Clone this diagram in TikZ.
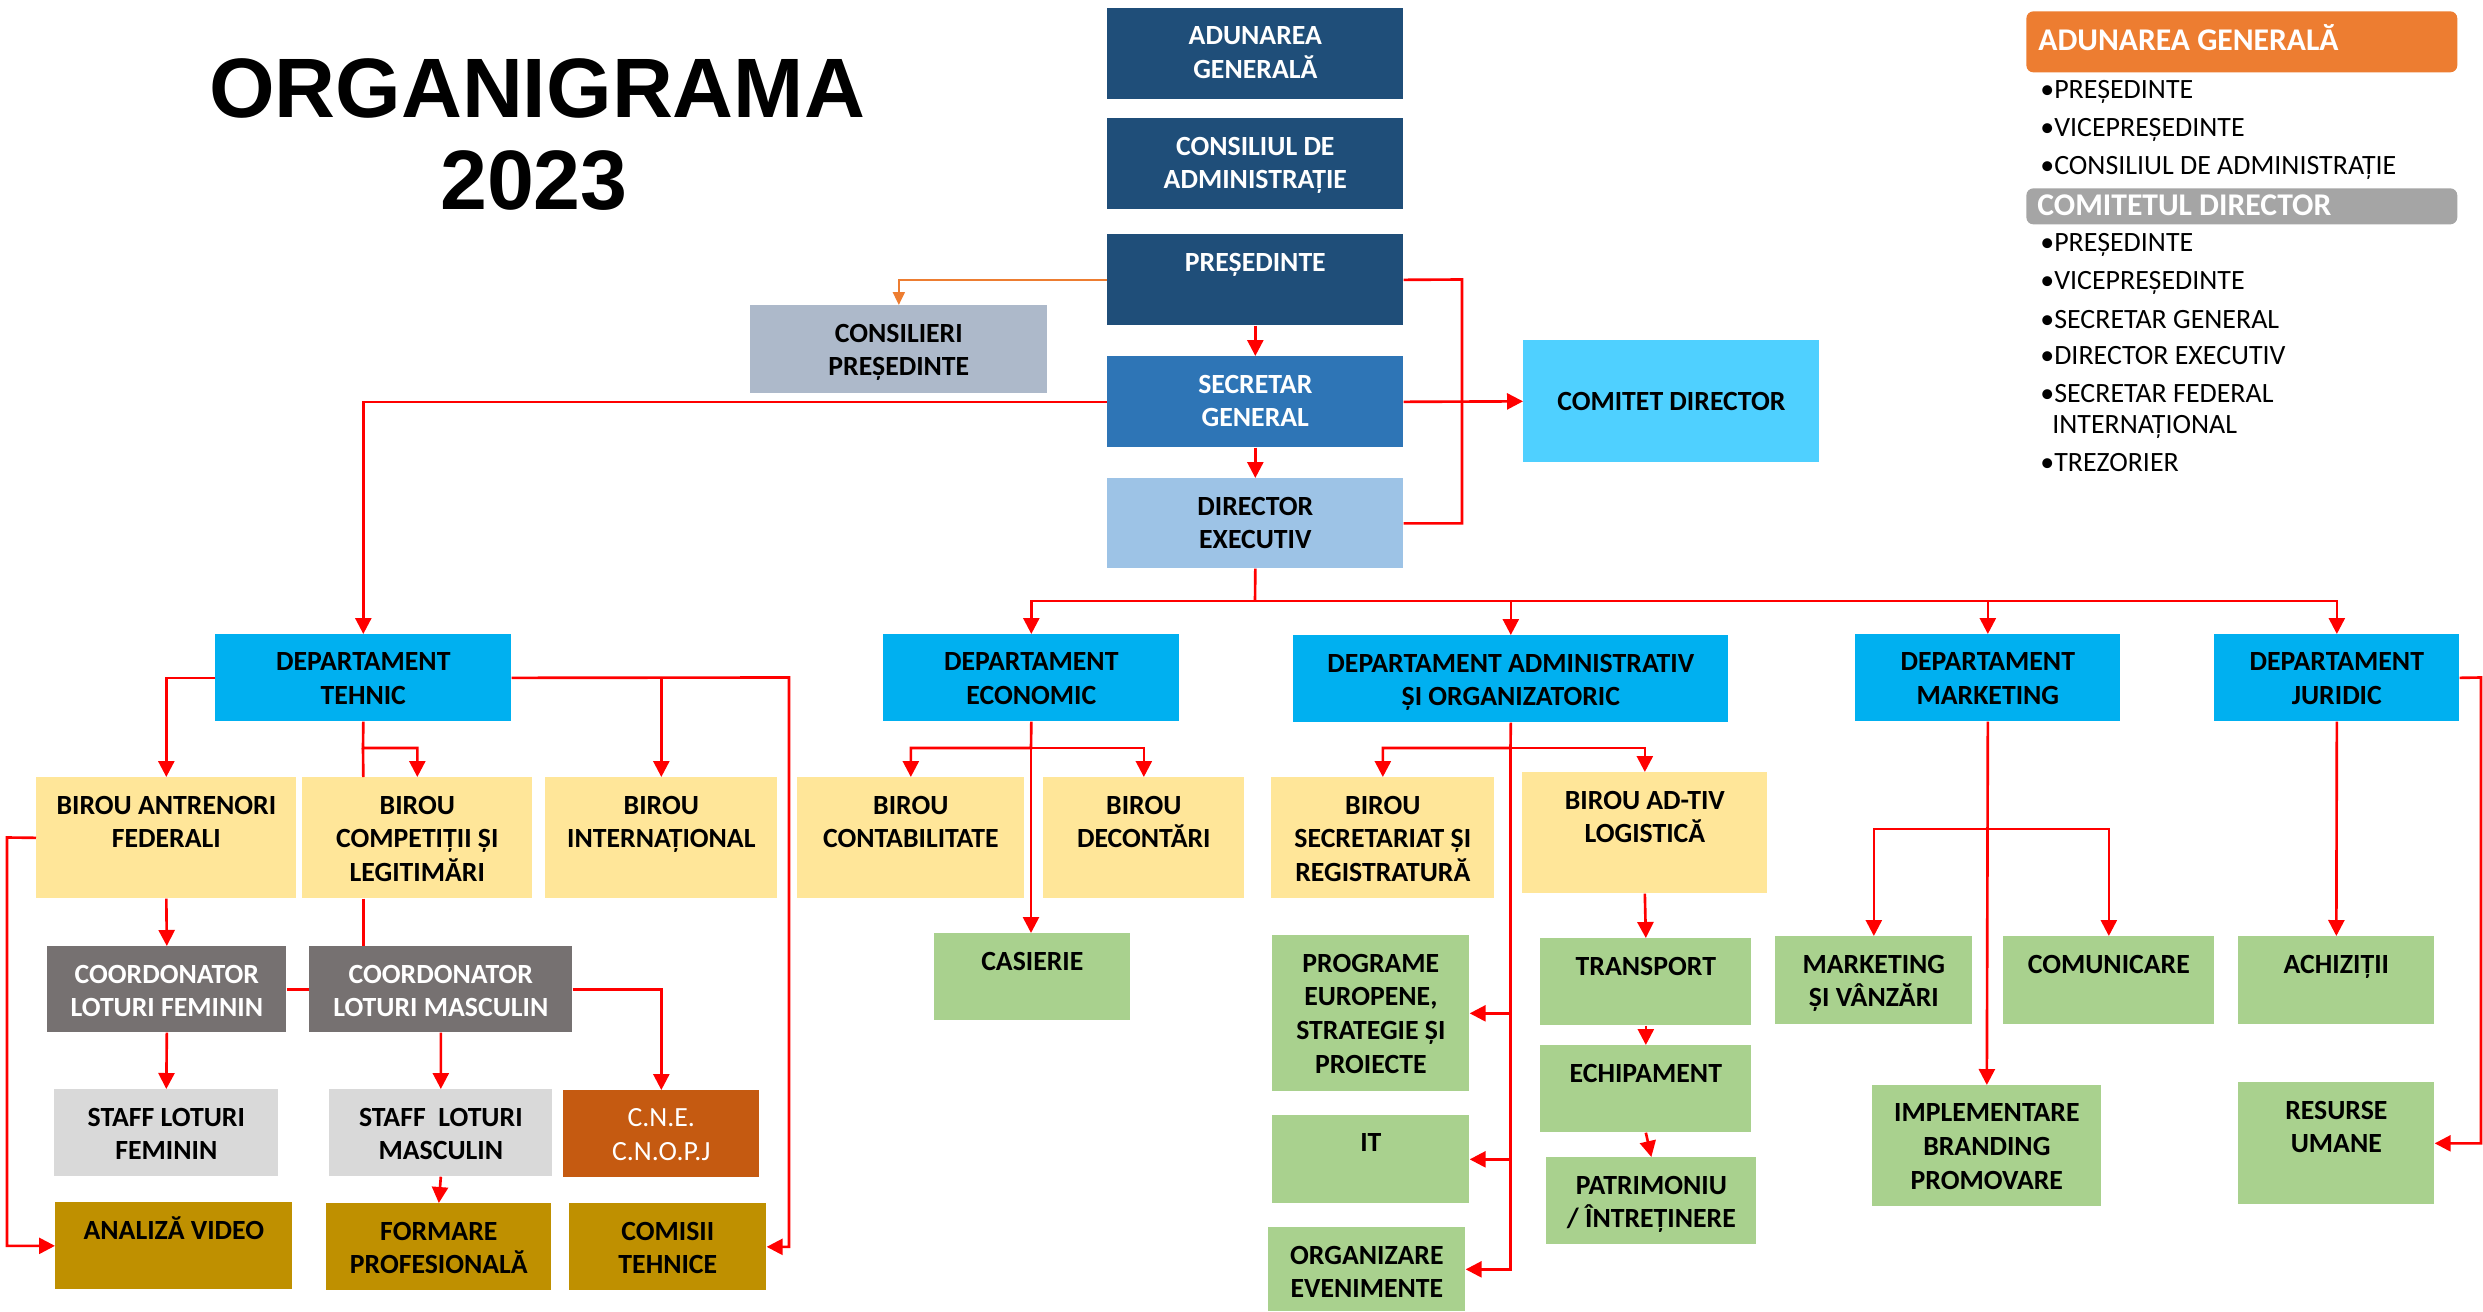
\documentclass[tikz,border=0pt]{standalone}
\usepackage{fontspec}
\setmainfont{Carlito}
\newfontfamily\titlefont{Liberation Sans}
\usetikzlibrary{arrows.meta}

\definecolor{navy}{HTML}{1F4E79}
\definecolor{secblue}{HTML}{2E75B6}
\definecolor{dirblue}{HTML}{9DC3E6}
\definecolor{consgray}{HTML}{ADB9CA}
\definecolor{comcyan}{HTML}{4FD0FF}
\definecolor{deptblue}{HTML}{00B0F0}
\definecolor{lightyel}{HTML}{FFE699}
\definecolor{coordgray}{HTML}{767171}
\definecolor{staffgray}{HTML}{D9D9D9}
\definecolor{cneorange}{HTML}{C55A11}
\definecolor{darkgold}{HTML}{BF9000}
\definecolor{softgreen}{HTML}{A9D18E}
\definecolor{linkred}{HTML}{FF0000}
\definecolor{hdrorange}{HTML}{ED7D31}
\definecolor{hdrgray}{HTML}{A5A5A5}

\newcommand{\boxfont}{\fontsize{15.8}{19.3}\selectfont\bfseries}
\newcommand{\regfont}{\fontsize{15.8}{19.3}\selectfont}
\newcommand{\legfont}{\fontsize{15.9}{18}\selectfont}
\newcommand{\headfont}{\fontsize{18}{20}\selectfont\bfseries}

\tikzset{
  org/.style={rectangle, inner sep=0pt, anchor=north west},
  wh/.style 2 args={minimum width=#1cm, minimum height=#2cm},
  txt/.style={anchor=north, align=center, inner sep=0pt, minimum size=0pt,
    yshift=-0.37cm, font=\boxfont, text=black},
  wtxt/.style={txt, text=white},
  wreg/.style={wtxt, font=\regfont},
  navybox/.style={org, fill=navy},
  secbox/.style={org, fill=secblue},
  dirbox/.style={org, fill=dirblue},
  consbox/.style={org, fill=consgray},
  combox/.style={org, fill=comcyan},
  deptbox/.style={org, fill=deptblue},
  yelbox/.style={org, fill=lightyel},
  coordbox/.style={org, fill=coordgray},
  staffbox/.style={org, fill=staffgray},
  cnebox/.style={org, fill=cneorange},
  goldbox/.style={org, fill=darkgold},
  greenbox/.style={org, fill=softgreen},
  link/.style={draw=linkred, line width=1.5pt},
  arr/.style={link, -{Triangle[length=0.32cm, width=0.32cm]}},
  orarr/.style={draw=hdrorange, line width=1.1pt, -{Triangle[length=0.26cm, width=0.24cm]}},
  hdr/.style={org, rounded corners=0.14cm},
  hdrtxt/.style={anchor=base west, inner sep=0pt, text=white, font=\headfont},
  item/.style={anchor=base west, inner sep=0pt, font=\legfont},
  titletxt/.style={anchor=base, inner sep=0pt, font={\titlefont\fontsize{48}{52}\selectfont\bfseries}}
}

\begin{document}
\begin{tikzpicture}[x=0.02cm, y=-0.02cm]
\fill[white] (0,0) rectangle (2483,1311);
\useasboundingbox (0,0) rectangle (2483,1311);

\node[titletxt] (title) at (537,118) {ORGANIGRAMA};
\node[titletxt] (year) at (534,210) {2023};

\node[navybox, wh={5.92}{1.82}, label={[wtxt]north:{ADUNAREA\\GENERALĂ}}] (adunare) at (1107,8) {};
\node[navybox, wh={5.92}{1.82}, label={[wtxt]north:{CONSILIUL DE\\ADMINISTRAȚIE}}] (consiliu) at (1107,118) {};
\node[navybox, wh={5.92}{1.82}, label={[wtxt]north:{PREȘEDINTE}}] (presedinte) at (1107,234) {};
\node[secbox, wh={5.92}{1.82}, label={[wtxt]north:{SECRETAR\\GENERAL}}] (secretar) at (1107,356) {};
\node[dirbox, wh={5.92}{1.80}, label={[txt]north:{DIRECTOR\\EXECUTIV}}] (director) at (1107,478) {};
\node[combox, wh={5.92}{2.44}, font=\boxfont] (comitet) at (1523,340) {COMITET DIRECTOR};
\node[consbox, wh={5.94}{1.76}, label={[txt]north:{CONSILIERI\\PREȘEDINTE}}] (consilieri) at (750,305) {};

\node[deptbox, wh={5.92}{1.74}, label={[txt]north:{DEPARTAMENT\\TEHNIC}}] (tehnic) at (215,634) {};
\node[deptbox, wh={5.92}{1.74}, label={[txt]north:{DEPARTAMENT\\ECONOMIC}}] (economic) at (883,634) {};
\node[deptbox, wh={8.70}{1.74}, label={[txt]north:{DEPARTAMENT ADMINISTRATIV\\ȘI ORGANIZATORIC}}] (admin) at (1293,635) {};
\node[deptbox, wh={5.30}{1.74}, label={[txt]north:{DEPARTAMENT\\MARKETING}}] (marketing) at (1855,634) {};
\node[deptbox, wh={4.90}{1.74}, label={[txt]north:{DEPARTAMENT\\JURIDIC}}] (juridic) at (2214,634) {};

\node[yelbox, wh={5.20}{2.42}, label={[txt]north:{BIROU ANTRENORI\\FEDERALI}}] (antrenori) at (36,777) {};
\node[yelbox, wh={4.60}{2.42}, label={[txt]north:{BIROU\\COMPETIȚII ȘI\\LEGITIMĂRI}}] (competitii) at (302,777) {};
\node[yelbox, wh={4.64}{2.42}, label={[txt]north:{BIROU\\INTERNAȚIONAL}}] (international) at (545,777) {};
\node[coordbox, wh={4.78}{1.72}, label={[wtxt]north:{COORDONATOR\\LOTURI FEMININ}}] (coordfem) at (47,946) {};
\node[coordbox, wh={5.26}{1.72}, label={[wtxt]north:{COORDONATOR\\LOTURI MASCULIN}}] (coordmasc) at (309,946) {};
\node[staffbox, wh={4.48}{1.74}, label={[txt]north:{STAFF LOTURI\\FEMININ}}] (stafffem) at (54,1089) {};
\node[staffbox, wh={4.46}{1.74}, label={[txt]north:{STAFF\ \ LOTURI\\MASCULIN}}] (staffmasc) at (329,1089) {};
\node[cnebox, wh={3.92}{1.74}, label={[wreg]north:{C.N.E.\\C.N.O.P.J}}] (cne) at (563,1090) {};
\node[goldbox, wh={4.74}{1.74}, label={[txt, yshift=0.09cm]north:{ANALIZĂ VIDEO}}] (analiza) at (55,1202) {};
\node[goldbox, wh={4.50}{1.74}, label={[txt]north:{FORMARE\\PROFESIONALĂ}}] (formare) at (326,1203) {};
\node[goldbox, wh={3.94}{1.74}, label={[txt]north:{COMISII\\TEHNICE}}] (comisii) at (569,1203) {};

\node[yelbox, wh={4.54}{2.42}, label={[txt]north:{BIROU\\CONTABILITATE}}] (contabilitate) at (797,777) {};
\node[yelbox, wh={4.02}{2.42}, label={[txt]north:{BIROU\\DECONTĂRI}}] (decontari) at (1043,777) {};
\node[greenbox, wh={3.92}{1.74}, label={[txt]north:{CASIERIE}}] (casierie) at (934,933) {};

\node[yelbox, wh={4.46}{2.42}, label={[txt]north:{BIROU\\SECRETARIAT ȘI\\REGISTRATURĂ}}] (secretariat) at (1271,777) {};
\node[yelbox, wh={4.90}{2.42}, label={[txt]north:{BIROU AD-TIV\\LOGISTICĂ}}] (logistica) at (1522,772) {};
\node[greenbox, wh={3.94}{3.12}, label={[txt]north:{PROGRAME\\EUROPENE,\\STRATEGIE ȘI\\PROIECTE}}] (programe) at (1272,935) {};
\node[greenbox, wh={3.94}{1.76}, label={[txt]north:{IT}}] (it) at (1272,1115) {};
\node[greenbox, wh={3.94}{1.68}, label={[txt]north:{ORGANIZARE\\EVENIMENTE}}] (organizare) at (1268,1227) {};
\node[greenbox, wh={4.22}{1.74}, label={[txt]north:{TRANSPORT}}] (transport) at (1540,938) {};
\node[greenbox, wh={4.22}{1.74}, label={[txt]north:{ECHIPAMENT}}] (echipament) at (1540,1045) {};
\node[greenbox, wh={4.20}{1.74}, label={[txt]north:{PATRIMONIU\\/ ÎNTREȚINERE}}] (patrimoniu) at (1546,1157) {};

\node[greenbox, wh={3.94}{1.76}, label={[txt]north:{MARKETING\\ȘI VÂNZĂRI}}] (mkvanzari) at (1775,936) {};
\node[greenbox, wh={4.22}{1.76}, label={[txt]north:{COMUNICARE}}] (comunicare) at (2003,936) {};
\node[greenbox, wh={4.58}{2.42}, label={[txt]north:{IMPLEMENTARE\\BRANDING\\PROMOVARE}}] (implementare) at (1872,1085) {};
\node[greenbox, wh={3.92}{1.76}, label={[txt]north:{ACHIZIȚII}}] (achizitii) at (2238,936) {};
\node[greenbox, wh={3.92}{2.44}, label={[txt]north:{RESURSE\\UMANE}}] (resurse) at (2238,1082) {};

\node[hdr, fill=hdrorange, wh={8.62}{1.22}] (agbar) at (2026,11) {};
\node[hdrtxt] (agtitle) at (2038,51) {ADUNAREA GENERALĂ};
\node[item] (ag1) at (2040,99) {•PREȘEDINTE};
\node[item] (ag2) at (2040,137) {•VICEPREȘEDINTE};
\node[item] (ag3) at (2040,174) {•CONSILIUL DE ADMINISTRAȚIE};
\node[hdr, fill=hdrgray, wh={8.62}{0.72}] (cdbar) at (2026,188) {};
\node[hdrtxt] (cdtitle) at (2037,215) {COMITETUL DIRECTOR};
\node[item] (cd1) at (2040,252) {•PREȘEDINTE};
\node[item] (cd2) at (2040,289) {•VICEPREȘEDINTE};
\node[item] (cd3) at (2040,328) {•SECRETAR GENERAL};
\node[item] (cd4) at (2040,364) {•DIRECTOR EXECUTIV};
\node[item] (cd5) at (2040,402) {•SECRETAR FEDERAL};
\node[item] (cd5b) at (2052,433) {INTERNAȚIONAL};
\node[item] (cd6) at (2040,471) {•TREZORIER};

\coordinate (pr) at (1462,279.5);
\coordinate (bus) at (1255,601);
\coordinate (tr) at (789,677.5);
\coordinate (tsplit) at (363,748);
\coordinate (al) at (7,837.5);
\coordinate (esplit) at (1031,748);
\coordinate (asplit) at (1510.5,748);
\coordinate (msplit) at (1987.5,829);
\coordinate (jr) at (2481,677.5);

\draw[orarr] (presedinte.west) -| (consilieri.north);
\draw[arr] (presedinte.south) -- (secretar.north);
\draw[arr] (secretar.south) -- (director.north);
\draw[link] (presedinte.east) -- (pr) |- (director.east);
\draw[arr] (secretar.east) -- (comitet.west);
\draw[arr] (secretar.west) -| (tehnic.north);

\draw[link] (director.south) -- (bus);
\draw[arr] (bus) -| (economic.north);
\draw[arr] (bus) -| (admin.north);
\draw[arr] (bus) -| (marketing.north);
\draw[arr] (bus) -| (juridic.north);

\draw[arr] (tehnic.west) -| (antrenori.north);
\draw[arr] (tehnic.east) -| (international.north);
\draw[arr] (tehnic.east) -- (tr) |- (comisii.east);
\draw[arr] (tehnic.south) -- (tsplit) -| (competitii.north);
\draw[link] (tsplit) -- (competitii.north -| tehnic.south);
\draw[link] (competitii.south -| tehnic.south) -- (coordmasc.north -| tehnic.south);
\draw[arr] (antrenori.south) -- (coordfem.north);
\draw[arr] (antrenori.west) -- (al) |- (analiza.west);
\draw[link] (coordfem.east) -- (coordmasc.west);
\draw[arr] (coordfem.south) -- (stafffem.north);
\draw[arr] (coordmasc.south) -- (staffmasc.north);
\draw[arr] (coordmasc.east) -| (cne.north);
\draw[arr] (staffmasc.south) -- (formare.north);

\draw[arr] (economic.south) -- (esplit) -| (contabilitate.north);
\draw[arr] (esplit) -| (decontari.north);
\draw[arr] (esplit) -- (esplit |- casierie.north);

\draw[arr] (admin.south) -- (asplit) -| (secretariat.north);
\draw[arr] (asplit) -| (logistica.north);
\draw[arr] (asplit) |- (programe.east);
\draw[arr] (asplit) |- (it.east);
\draw[arr] (asplit) |- (organizare.east);
\draw[arr] (logistica.south) -- (transport.north);
\draw[arr] (transport.south) -- (echipament.north);
\draw[arr] (echipament.south) -- (patrimoniu.north);

\draw[arr] (marketing.south) -- (implementare.north);
\draw[arr] (msplit) -| (mkvanzari.north);
\draw[arr] (msplit) -| (comunicare.north);

\draw[arr] (juridic.south) -- (achizitii.north);
\draw[arr] (juridic.east) -- (jr) |- (resurse.east);
\end{tikzpicture}
\end{document}
